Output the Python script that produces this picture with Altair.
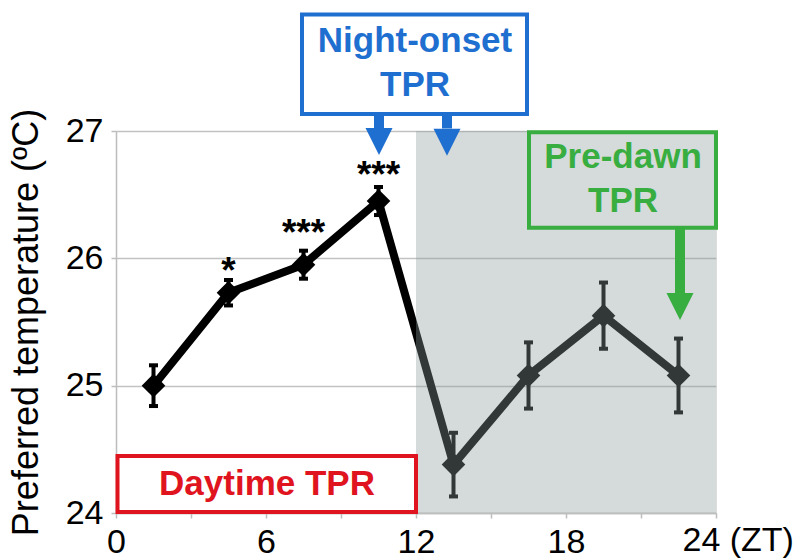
import altair as alt
import pandas as pd

# ---- data ----
zt = [1.5, 4.5, 7.5, 10.5, 13.5, 16.5, 19.5, 22.5]
temp = [25.0, 25.73, 25.95, 26.45, 24.38, 25.08, 25.55, 25.08]
sem = [0.16, 0.10, 0.11, 0.11, 0.25, 0.26, 0.26, 0.29]

star_labels = ["*", "***", "***"]
star_x = [4.5, 7.5, 10.5]
star_y = [25.89, 26.19, 26.65]

x_ticks = [0, 3, 6, 9, 12, 15, 18, 21, 24]
y_ticks = [24, 25, 26, 27]

FONT = "Liberation Sans, Arial, Helvetica, sans-serif"
BLUE = "#1f6fd0"
GREEN = "#38ad40"
RED = "#e0141e"

xs = alt.Scale(domain=[0, 24], nice=False, zero=False)
ys = alt.Scale(domain=[24, 27], nice=False, zero=False)

AX = alt.Axis(
    values=x_ticks, grid=False, title=None,
    labelExpr="datum.value % 6 == 0 && datum.value < 24 ? datum.label : ''",
    labelFontSize=34, labelFont=FONT, labelColor="black", labelPadding=7,
    labelFlush=False, tickSize=5, tickColor="#bdbdbd", tickWidth=1.5,
    domainColor="#bdbdbd", domainWidth=1.5)
AY = alt.Axis(
    values=y_ticks, grid=True, gridColor="#c2c2c2", gridWidth=1.5,
    title="Preferred temperature (ºC)", titleFontSize=36, titleFont=FONT,
    titleFontWeight="normal", titleColor="black", titlePadding=20,
    labelFontSize=34, labelFont=FONT, labelColor="black", labelPadding=8,
    tickSize=5, tickColor="#bdbdbd", tickWidth=1.5,
    domainColor="#bdbdbd", domainWidth=1.5)

df = pd.DataFrame({
    "x": zt,
    "y": temp,
    "lo": [t - s for t, s in zip(temp, sem)],
    "hi": [t + s for t, s in zip(temp, sem)],
})

stars = pd.DataFrame({"x": star_x, "y": star_y, "t": star_labels})

night = pd.DataFrame({"x": [12], "x2": [24], "y": [24], "y2": [27]})

boxes = pd.DataFrame({
    "x": [0.06, 7.44, 16.52],
    "x2": [12.0, 16.44, 24.0],
    "y": [24.008, 27.134, 26.24],
    "y2": [24.447, 27.915, 26.99],
    "c": [RED, BLUE, GREEN],
    "f": ["white", "white", "transparent"],
})

box_text = pd.DataFrame({
    "x": [6.04, 11.96, 11.96, 20.28, 20.28],
    "y": [24.228, 27.707, 27.365, 26.792, 26.454],
    "t": ["Daytime TPR", "Night-onset", "TPR", "Pre-dawn", "TPR"],
    "c": [RED, BLUE, BLUE, GREEN, GREEN],
})

shafts = pd.DataFrame({
    "x": [10.52, 13.24, 22.56],
    "y": [27.134, 27.134, 26.24],
    "y2": [27.02, 27.02, 25.72],
    "c": [BLUE, BLUE, GREEN],
})

heads = pd.DataFrame({
    "x": [10.52, 13.24, 22.56],
    "y": [26.918, 26.912, 25.622],
    "c": [BLUE, BLUE, GREEN],
})

zt_label = pd.DataFrame({"x": [22.66], "y": [23.705], "t": ["24 (ZT)"]})


def X(f="x"):
    return alt.X(f"{f}:Q", scale=xs, axis=AX)


def Y(f="y"):
    return alt.Y(f"{f}:Q", scale=ys, axis=AY)


err = alt.Chart(df).mark_rule(color="black", strokeWidth=4).encode(
    x=X(), y=Y("lo"), y2="hi:Q")

cap_lo = alt.Chart(df).mark_tick(color="black", orient="horizontal", size=9, thickness=4, opacity=1).encode(
    x=X(), y=Y("lo"))
cap_hi = alt.Chart(df).mark_tick(color="black", orient="horizontal", size=9, thickness=4, opacity=1).encode(
    x=X(), y=Y("hi"))

line = alt.Chart(df).mark_line(color="black", strokeWidth=8).encode(x=X(), y=Y())

pts = alt.Chart(df).mark_point(shape="diamond", filled=True, size=560, color="black", opacity=1).encode(
    x=X(), y=Y())

shade = alt.Chart(night).mark_rect(color="#8a9898", opacity=0.36).encode(
    x=X(), x2="x2:Q", y=Y(), y2="y2:Q")

star_txt = alt.Chart(stars).mark_text(font=FONT, fontSize=37, fontWeight="bold", color="black",
                                      baseline="middle", align="center").encode(
    x=X(), y=Y(), text="t:N")

box = alt.Chart(boxes).mark_rect(strokeWidth=4).encode(
    x=X(), x2="x2:Q", y=Y(), y2="y2:Q",
    stroke=alt.Stroke("c:N", scale=None),
    fill=alt.Fill("f:N", scale=None),
)

btxt = alt.Chart(box_text).mark_text(font=FONT, fontSize=35, fontWeight="bold", baseline="middle", align="center").encode(
    x=X(), y=Y(), text="t:N", color=alt.Color("c:N", scale=None))

shaft = alt.Chart(shafts).mark_rule(strokeWidth=10, strokeCap="butt").encode(
    x=X(), y=Y(), y2="y2:Q", color=alt.Color("c:N", scale=None))

head = alt.Chart(heads).mark_point(shape="M-1,-1L1,-1L0,1Z", filled=True, size=729, opacity=1, strokeWidth=0).encode(
    x=X(), y=Y(), color=alt.Color("c:N", scale=None))

ztl = alt.Chart(zt_label).mark_text(font=FONT, fontSize=34, color="black", align="left", baseline="alphabetic").encode(
    x=X(), y=Y(), text="t:N")

chart = alt.layer(
    err, cap_lo, cap_hi, line, pts, shade, star_txt, box, btxt, shaft, head, ztl
).properties(
    width=600, height=382,
    autosize=alt.AutoSizeParams(type="none"),
    padding={"left": 116, "top": 131, "right": 90, "bottom": 47},
).configure_view(stroke=None).configure(background="white")

chart.save("out.html", embed_options={"renderer": "svg", "actions": False})
